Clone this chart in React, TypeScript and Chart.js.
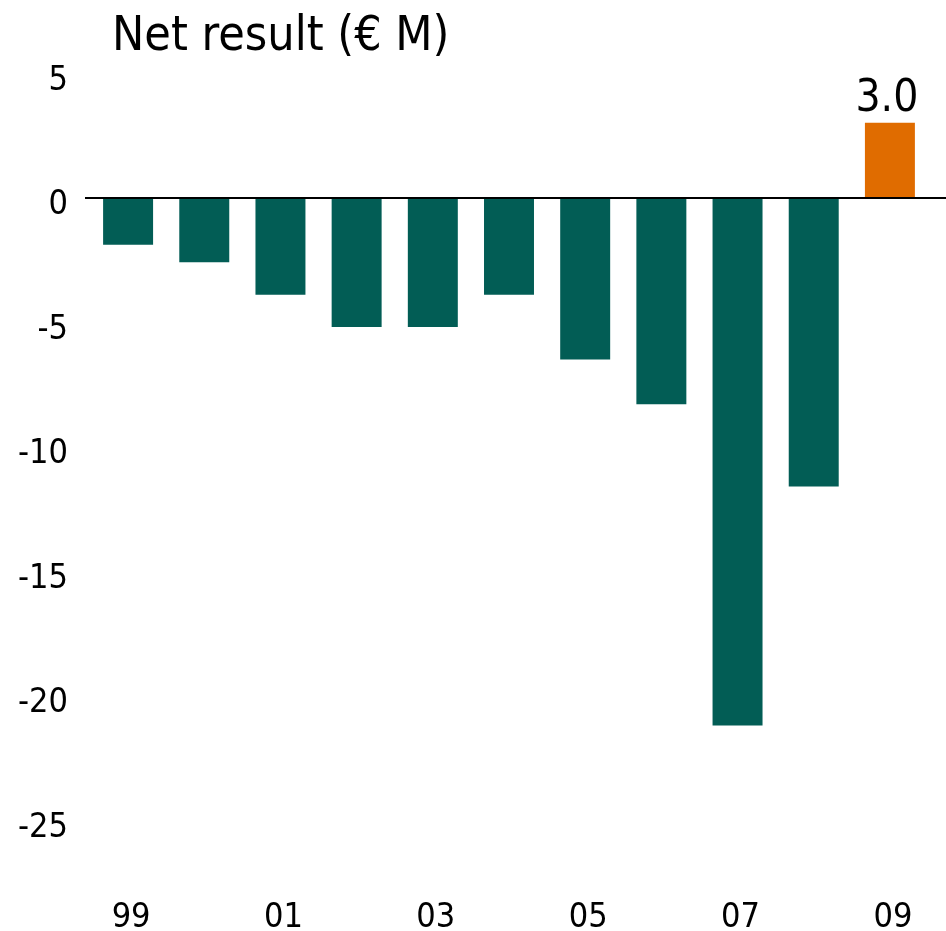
import React, { useEffect, useRef } from 'react';
import { Chart, registerables } from 'chart.js';

Chart.register(...registerables);

// ---- data ----
const CATEGORIES = ['99', '00', '01', '02', '03', '04', '05', '06', '07', '08', '09'];
const NET_RESULT = [-1.9, -2.6, -3.9, -5.2, -5.2, -3.9, -6.5, -8.3, -21.2, -11.6, 3.0];
const Y_TICKS = [5, 0, -5, -10, -15, -20, -25];
const LABELLED_CATEGORIES = ['09'];
const TITLE = 'Net result (€ M)';

// ---- styles ----
const GREEN = '#025D55';
const ORANGE = '#E06C00';
const FONT = '"DejaVu Sans Condensed", "Liberation Sans", sans-serif';

const overlayPlugin = {
  id: 'overlay',
  afterDatasetsDraw(chart: any) {
    const { ctx, chartArea } = chart;
    const y = chart.scales.y;
    const zero = Math.round(y.getPixelForValue(0));
    ctx.save();
    // zero line
    ctx.strokeStyle = '#000';
    ctx.lineWidth = 2;
    ctx.beginPath();
    ctx.moveTo(chartArea.left - 5, zero);
    ctx.lineTo(chart.width, zero);
    ctx.stroke();
    // data labels
    const meta = chart.getDatasetMeta(0);
    ctx.fillStyle = '#000';
    ctx.font = `44px ${FONT}`;
    ctx.textAlign = 'center';
    ctx.textBaseline = 'alphabetic';
    meta.data.forEach((bar: any, i: number) => {
      if (!LABELLED_CATEGORIES.includes(CATEGORIES[i])) return;
      const v = NET_RESULT[i];
      ctx.fillText(v.toFixed(1), bar.x - 3, bar.y - 12);
    });
    // title
    ctx.font = `48px ${FONT}`;
    ctx.textAlign = 'left';
    ctx.fillText(TITLE, 112, 50);
    ctx.restore();
  },
};

export default function App() {
  const ref = useRef<HTMLCanvasElement | null>(null);

  useEffect(() => {
    document.body.style.margin = '0';
    document.body.style.overflow = 'hidden';
    const chart = new Chart(ref.current as HTMLCanvasElement, {
      type: 'bar',
      data: {
        labels: CATEGORIES,
        datasets: [
          {
            data: NET_RESULT,
            backgroundColor: NET_RESULT.map((v) => (v >= 0 ? ORANGE : GREEN)),
            borderWidth: 0,
            barPercentage: 0.656,
            categoryPercentage: 1,
          },
        ],
      },
      options: {
        animation: false,
        responsive: true,
        maintainAspectRatio: false,
        layout: { padding: { top: 73, right: 18, bottom: 0, left: 0 } },
        plugins: {
          legend: { display: false },
          tooltip: { enabled: false },
          title: { display: false },
        },
        scales: {
          x: {
            type: 'category',
            offset: true,
            grid: { display: false, drawTicks: false },
            border: { display: false },
            ticks: {
              autoSkip: false,
              maxRotation: 0,
              padding: 28,
              labelOffset: 3,
              color: '#000',
              font: { family: FONT, size: 34 },
              callback: (_v: any, i: number) => (i % 2 === 0 ? CATEGORIES[i] : ''),
            },
            afterFit: (s: any) => {
              s.height = 61;
            },
          },
          y: {
            type: 'linear',
            min: -27,
            max: 5,
            grid: { display: false, drawTicks: false },
            border: { display: false },
            afterBuildTicks: (s: any) => {
              s.ticks = Y_TICKS.map((v) => ({ value: v }));
            },
            ticks: {
              padding: 22,
              labelOffset: 8,
              color: '#000',
              font: { family: FONT, size: 34 },
              callback: (v: any) => String(v),
            },
            afterFit: (s: any) => {
              s.width = 90;
            },
          },
        },
      },
      plugins: [overlayPlugin],
    });
    return () => chart.destroy();
  }, []);

  return (
    <div style={{ position: 'relative', width: '946px', height: '931px' }}>
      <canvas ref={ref} />
    </div>
  );
}
